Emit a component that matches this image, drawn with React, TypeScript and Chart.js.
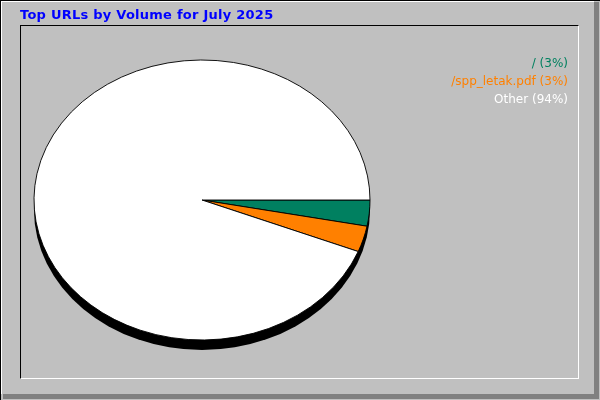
import { useEffect, useRef } from "react"
import { Chart, registerables } from "chart.js"

Chart.register(...registerables)

const title = "Top URLs by Volume for July 2025"
const urls = ["/", "/spp_letak.pdf", "Other"]
const shares = [3, 3, 94]
const sliceColors = ["#008060", "#ff8000", "#ffffff"]
const legendColors = ["#00805f", "#ff8000", "#ffffff"]

// squash the round pie into the flat webalizer-style ellipse
const ellipsePlugin = {
  id: "ellipse",
  beforeDatasetsDraw(chart: Chart) {
    const arc: any = chart.getDatasetMeta(0).data[0]
    if (!arc) return
    const { x, y, outerRadius } = arc
    const ry = outerRadius * (140 / 168)
    const ctx = chart.ctx
    ctx.save()
    // shadow under the pie
    ctx.fillStyle = "#000000"
    ctx.beginPath()
    ctx.ellipse(x, y + 10, outerRadius, ry, 0, 0, Math.PI * 2)
    ctx.fill()
    ctx.translate(x, y)
    ctx.scale(1, ry / outerRadius)
    ctx.translate(-x, -y)
  },
  afterDatasetsDraw(chart: Chart) {
    chart.ctx.restore()
  },
  afterDraw(chart: Chart) {
    const ctx: any = chart.ctx
    ctx.save()
    ctx.font = "bold 13px 'DejaVu Sans'"
    ctx.letterSpacing = "0.25px"
    ctx.fillStyle = "#0000ff"
    ctx.textAlign = "left"
    ctx.textBaseline = "alphabetic"
    ctx.fillText(title, 20, 19)
    ctx.letterSpacing = "0px"
    ctx.font = "12px 'DejaVu Sans'"
    ctx.textAlign = "right"
    urls.forEach((u, i) => {
      ctx.fillStyle = legendColors[i]
      ctx.fillText(`${u} (${shares[i]}%)`, 568, 67 + i * 18)
    })
    ctx.restore()
  },
}

export default function App() {
  const canvasRef = useRef<HTMLCanvasElement>(null)

  useEffect(() => {
    if (!canvasRef.current) return
    const chart = new Chart(canvasRef.current, {
      type: "pie",
      data: {
        labels: urls,
        datasets: [
          {
            data: shares,
            backgroundColor: sliceColors,
            borderColor: "#000000",
            borderWidth: 1,
          },
        ],
      },
      options: {
        animation: false,
        responsive: false,
        rotation: 90,
        radius: 168,
        layout: { padding: { left: 34, right: 230, top: 32, bottom: 32 } },
        plugins: {
          legend: { display: false },
          tooltip: { enabled: false },
        },
      },
      plugins: [ellipsePlugin],
    })
    return () => chart.destroy()
  }, [])

  const line = (s: React.CSSProperties) => <div style={{ position: "absolute", ...s }} />

  return (
    <div style={{ position: "absolute", left: 0, top: 0, width: 600, height: 400, background: "#c0c0c0", overflow: "hidden" }}>
      {line({ left: 0, top: 0, width: 600, height: 1, background: "#000" })}
      {line({ left: 0, top: 0, width: 1, height: 400, background: "#000" })}
      {line({ left: 1, top: 1, width: 593, height: 1, background: "#fff" })}
      {line({ left: 1, top: 1, width: 1, height: 393, background: "#fff" })}
      {line({ left: 594, top: 2, width: 5, height: 397, background: "#808080" })}
      {line({ left: 3, top: 394, width: 596, height: 5, background: "#808080" })}
      <div
        style={{
          position: "absolute",
          left: 20,
          top: 25,
          width: 557,
          height: 352,
          borderTop: "1px solid #000",
          borderLeft: "1px solid #000",
          borderRight: "1px solid #fff",
          borderBottom: "1px solid #fff",
        }}
      />
      <canvas ref={canvasRef} width={600} height={400} style={{ position: "absolute", left: 0, top: 0, width: 600, height: 400 }} />
    </div>
  )
}
